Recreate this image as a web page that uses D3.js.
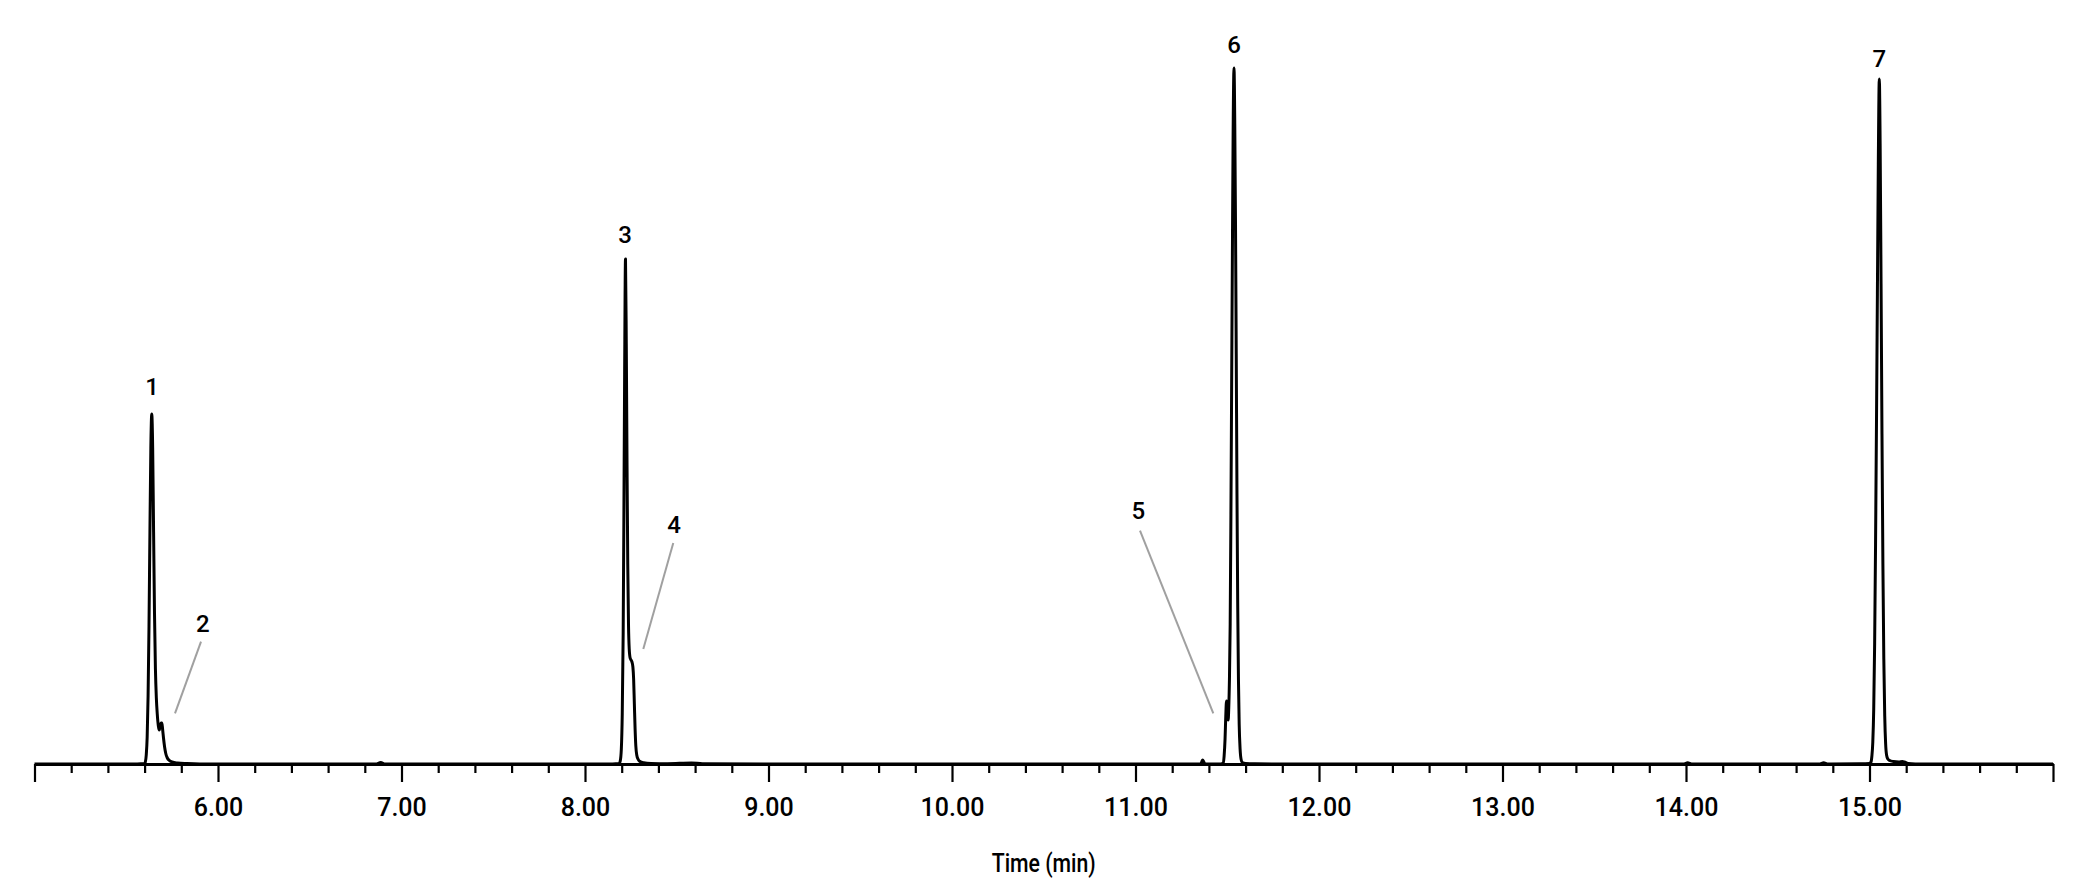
<!DOCTYPE html>
<html>
<head>
<meta charset="utf-8">
<script src="https://cdn.jsdelivr.net/npm/d3@7"></script>
<style>
  html, body { margin: 0; padding: 0; background: #ffffff; }
  svg text { font-family: Roboto, "Liberation Sans", sans-serif; fill: #000; font-weight: 500; }
</style>
</head>
<body>
<svg id="chart" width="2084" height="894"></svg>
<script>
// ---------------- DATA ----------------
// time axis (min)
const timeDomain = [5, 16];
const majorTickValues = [5, 6, 7, 8, 9, 10, 11, 12, 13, 14, 15, 16];
const majorTickLabels = ["", "6.00", "7.00", "8.00", "9.00", "10.00", "11.00", "12.00", "13.00", "14.00", "15.00", ""];
const minorTickValues = [5.2, 5.4, 5.6, 5.8, 6.2, 6.4, 6.6, 6.8, 7.2, 7.4, 7.6, 7.8, 8.2, 8.4, 8.6, 8.8,
  9.2, 9.4, 9.6, 9.8, 10.2, 10.4, 10.6, 10.8, 11.2, 11.4, 11.6, 11.8, 12.2, 12.4, 12.6, 12.8,
  13.2, 13.4, 13.6, 13.8, 14.2, 14.4, 14.6, 14.8, 15.2, 15.4, 15.6, 15.8];
const axisTitle = "Time (min)";
const signalDomain = [0, 700];

// chromatogram trace segments: [time (min), signal]
const baselineStart = [[5.00, 0], [6.86, 0], [6.887, 1.5], [6.91, 0], [7.50, 0], [8.10, 0]];
const peak1and2 = [[5.560, 0], [5.600, 0.5], [5.604, 2], [5.609, 9], [5.614, 27], [5.619, 68], [5.624, 138],
  [5.629, 232], [5.634, 316], [5.639, 350], [5.644, 316], [5.649, 232], [5.654, 150], [5.659, 95],
  [5.664, 66], [5.669, 50], [5.675, 38], [5.680, 34], [5.685, 37], [5.690, 41], [5.694, 41],
  [5.698, 35], [5.703, 26], [5.709, 17], [5.716, 10], [5.724, 6], [5.735, 3.5], [5.750, 2],
  [5.780, 1], [5.830, 0.4], [5.900, 0]];
const peak3and4 = [[8.150, 0], [8.186, 0.5], [8.192, 3], [8.198, 15], [8.203, 50], [8.208, 130],
  [8.212, 250], [8.216, 390], [8.2207, 505], [8.225, 420], [8.229, 300], [8.233, 200], [8.237, 140],
  [8.241, 115], [8.246, 106], [8.251, 104], [8.256, 102], [8.261, 97], [8.265, 85], [8.269, 60],
  [8.273, 35], [8.277, 18], [8.282, 9], [8.290, 4.5], [8.300, 2.5], [8.320, 1.3], [8.360, 0.6],
  [8.450, 0.3], [8.580, 1.0], [8.640, 0.3], [9.000, 0]];
const midBaseline = [[10.00, 0], [11.00, 0], [11.355, 0], [11.362, 2.5], [11.366, 4], [11.371, 2.5], [11.378, 0.3], [11.460, 0]];
const peak5and6 = [[11.470, 0.2], [11.478, 1], [11.483, 8], [11.488, 25], [11.492, 48], [11.496, 63],
  [11.499, 62], [11.502, 50], [11.505, 44], [11.508, 55], [11.512, 85], [11.516, 140], [11.520, 250],
  [11.524, 380], [11.528, 510], [11.532, 630], [11.5368, 696], [11.541, 640], [11.545, 540],
  [11.549, 410], [11.553, 270], [11.557, 160], [11.561, 85], [11.565, 40], [11.570, 15], [11.575, 5],
  [11.582, 1.5], [11.600, 0.5], [11.650, 0.2], [12.00, 0]];
const lateBaseline = [[13.00, 0], [13.99, 0], [14.009, 1.2], [14.03, 0], [14.73, 0], [14.75, 1.2], [14.77, 0], [14.95, 0.2]];
const peak7 = [[15.000, 0.5], [15.008, 2], [15.013, 8], [15.018, 22], [15.023, 55], [15.028, 120],
  [15.033, 220], [15.038, 340], [15.043, 470], [15.048, 600], [15.0534, 685], [15.058, 620],
  [15.063, 480], [15.068, 330], [15.073, 200], [15.078, 105], [15.083, 48], [15.088, 20], [15.093, 9],
  [15.100, 5], [15.110, 3.5], [15.130, 2.5], [15.160, 2], [15.180, 2.5], [15.190, 2], [15.210, 0.5],
  [15.250, 0], [16.00, 0]];

// peak labels: text, time, signal (text baseline)
const peakLabels = ["1", "2", "3", "4", "5", "6", "7"];
const peakLabelTimes = [5.6403, 5.9166, 8.218, 8.485, 11.0153, 11.5368, 15.0534];
const peakLabelSignals = [369, 132.3, 521.3, 231, 244.7, 710.7, 697.3];

// leader lines for minor peaks: [t1, s1, t2, s2]
const leaderLines = [
  [5.9074, 122.3, 5.7657, 50.7],
  [8.481, 221, 8.3177, 115],
  [11.0245, 233.3, 11.424, 50.7]
];

// ---------------- DRAWING ----------------
const svg = d3.select("#chart");
svg.append("rect").attr("width", 2084).attr("height", 894).attr("fill", "#ffffff");

const x = d3.scaleLinear().domain(timeDomain).range([34.5, 2053]);
const y = d3.scaleLinear().domain(signalDomain).range([764, 64]);

const trace = [].concat(baselineStart.slice(0, 4), peak1and2, baselineStart.slice(3), peak3and4,
  midBaseline, peak5and6, lateBaseline, peak7).sort((a, b) => a[0] - b[0]);

// leader lines
svg.append("g").selectAll("line").data(leaderLines).join("line")
  .attr("x1", d => x(d[0])).attr("y1", d => y(d[1]))
  .attr("x2", d => x(d[2])).attr("y2", d => y(d[3]))
  .attr("stroke", "#a0a0a0").attr("stroke-width", 2);

// axis
const axisG = svg.append("g").attr("transform", `translate(0,${y(0)})`);
const minorAxis = d3.axisBottom(x).tickValues(minorTickValues).tickSize(9).tickSizeOuter(0).tickFormat("");
const majorAxis = d3.axisBottom(x).tickValues(majorTickValues).tickSize(18).tickSizeOuter(0)
  .tickFormat((d, i) => majorTickLabels[i]);
axisG.append("g").call(minorAxis);
const majG = axisG.append("g").call(majorAxis);
axisG.selectAll(".domain").attr("stroke", "#000").attr("stroke-width", 2.8);
axisG.selectAll(".tick line").attr("stroke", "#000").attr("stroke-width", 2.2);
majG.selectAll(".tick text")
  .attr("y", 52).attr("dy", 0)
  .style("font-size", "25px").style("font-family", "Roboto, 'Liberation Sans', sans-serif")
  .style("font-weight", 500).attr("fill", "#000");

// axis title
svg.append("text")
  .attr("x", (x.range()[0] + x.range()[1]) / 2).attr("y", 872)
  .attr("text-anchor", "middle")
  .attr("textLength", 104).attr("lengthAdjust", "spacingAndGlyphs")
  .style("font-size", "25px")
  .text(axisTitle);

// chromatogram trace
const line = d3.line().x(d => x(d[0])).y(d => y(d[1])).curve(d3.curveMonotoneX);
svg.append("path").datum(trace)
  .attr("d", line)
  .attr("fill", "none").attr("stroke", "#000").attr("stroke-width", 3)
  .attr("stroke-linejoin", "round");

// peak labels
svg.append("g").selectAll("text").data(peakLabels).join("text")
  .attr("x", (d, i) => x(peakLabelTimes[i]))
  .attr("y", (d, i) => y(peakLabelSignals[i]))
  .attr("text-anchor", "middle")
  .style("font-size", "24px")
  .text(d => d);
</script>
</body>
</html>
